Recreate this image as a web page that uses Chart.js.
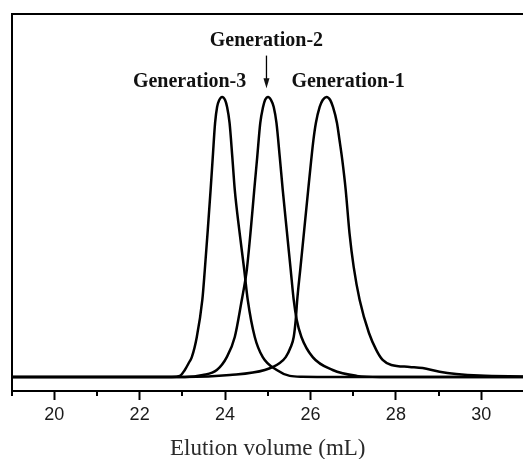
<!DOCTYPE html>
<html>
<head>
<meta charset="utf-8">
<script src="https://cdn.jsdelivr.net/npm/chart.js@4/dist/chart.umd.min.js"></script>
<style>
  html, body { margin: 0; padding: 0; background: #fff; overflow: hidden; }
  #wrap { width: 524px; height: 459px; }
</style>
</head>
<body>
<div id="wrap"><canvas id="c" width="524" height="459"></canvas></div>
<script>
// ---- data (elution volume in mL, normalized detector response) ----
const seriesNames = ["Generation-1", "Generation-2", "Generation-3"];

const gen1X = [19, 22.8, 23.058, 24.111, 24.930, 25.281, 25.421, 25.538, 25.608, 25.655, 25.690, 25.760, 25.854, 25.947, 26.018, 26.069, 26.127, 26.216, 26.287, 26.373, 26.462, 26.527, 26.621, 26.680, 26.745, 26.825, 26.914, 27.012, 27.152, 27.370, 27.543, 27.690, 27.894, 28.322, 28.626, 29.023, 29.414, 29.959, 31];
const gen1Y = [0, 0, 0, 0.007, 0.025, 0.05, 0.071, 0.107, 0.143, 0.204, 0.275, 0.382, 0.525, 0.668, 0.775, 0.846, 0.907, 0.964, 0.989, 1.0, 0.989, 0.964, 0.907, 0.846, 0.775, 0.668, 0.514, 0.393, 0.275, 0.157, 0.096, 0.061, 0.043, 0.036, 0.032, 0.019, 0.011, 0.005, 0.002];

const gen2X = [19, 22.8, 23.058, 23.480, 23.807, 24.041, 24.228, 24.392, 24.474, 24.509, 24.602, 24.684, 24.754, 24.825, 24.890, 24.937, 25.007, 25.077, 25.140, 25.204, 25.281, 25.351, 25.444, 25.538, 25.608, 25.678, 25.788, 26.053, 26.520, 27.082, 27.62, 29, 31];
const gen2Y = [0, 0, 0, 0.007, 0.025, 0.071, 0.143, 0.275, 0.346, 0.382, 0.525, 0.668, 0.786, 0.907, 0.964, 0.989, 1.0, 0.989, 0.964, 0.907, 0.786, 0.668, 0.525, 0.382, 0.275, 0.204, 0.143, 0.071, 0.025, 0.004, 0, 0, 0];

const gen3X = [19, 22.6, 22.754, 22.942, 23.058, 23.150, 23.222, 23.339, 23.468, 23.526, 23.596, 23.662, 23.713, 23.767, 23.814, 23.865, 23.931, 24.001, 24.048, 24.106, 24.170, 24.228, 24.333, 24.450, 24.532, 24.696, 24.883, 25.211, 25.515, 25.8, 27, 29, 31];
const gen3Y = [0, 0, 0, 0.004, 0.025, 0.05, 0.071, 0.143, 0.275, 0.382, 0.525, 0.668, 0.786, 0.907, 0.964, 0.989, 1.0, 0.989, 0.964, 0.907, 0.786, 0.668, 0.525, 0.382, 0.275, 0.143, 0.071, 0.025, 0.004, 0.001, 0, 0, 0];

const xMajorTicks = [20, 22, 24, 26, 28, 30];
const xMinorTicks = [19, 21, 23, 25, 27, 29, 31];
const xAxisTitle = "Elution volume (mL)";

// peak annotations (text, x in mL, y in response units)
const annoText = ["Generation-3", "Generation-2", "Generation-1"];
const annoX = [23.17, 24.97, 26.88];
const annoY = [1.037, 1.182, 1.037];
const arrowX = 24.97;
const arrowFromY = 1.1475;
const arrowToY = 1.031;

// ---- build chart ----
function pts(xs, ys) { return xs.map((x, i) => ({ x: x, y: ys[i] })); }
const allSeries = [[gen1X, gen1Y], [gen2X, gen2Y], [gen3X, gen3Y]];
const datasets = allSeries.map((s, i) => ({
  label: seriesNames[i],
  data: pts(s[0], s[1]),
  borderColor: "#000",
  borderWidth: 2.5,
  pointRadius: 0,
  fill: false,
  cubicInterpolationMode: "monotone"
}));

const extras = {
  id: "extras",
  afterDraw(chart) {
    const ctx = chart.ctx;
    const xs = chart.scales.x, ys = chart.scales.y;
    ctx.save();
    // minor ticks
    ctx.strokeStyle = "#000";
    ctx.lineWidth = 2;
    xMinorTicks.forEach(v => {
      const px = Math.round(xs.getPixelForValue(v));
      ctx.beginPath();
      ctx.moveTo(px, xs.top);
      ctx.lineTo(px, xs.top + 5);
      ctx.stroke();
    });
    // labels
    ctx.fillStyle = "#111";
    ctx.font = "bold 20px 'Liberation Serif', 'Times New Roman', serif";
    ctx.textAlign = "center";
    ctx.textBaseline = "alphabetic";
    annoText.forEach((t, i) => {
      ctx.fillText(t, xs.getPixelForValue(annoX[i]), ys.getPixelForValue(annoY[i]));
    });
    // arrow
    const ax = xs.getPixelForValue(arrowX);
    const y0 = ys.getPixelForValue(arrowFromY);
    const y1 = ys.getPixelForValue(arrowToY);
    ctx.lineWidth = 1.3;
    ctx.beginPath();
    ctx.moveTo(ax, y0);
    ctx.lineTo(ax, y1 - 8);
    ctx.stroke();
    ctx.beginPath();
    ctx.moveTo(ax - 3, y1 - 10);
    ctx.lineTo(ax + 3, y1 - 10);
    ctx.lineTo(ax, y1);
    ctx.closePath();
    ctx.fill();
    ctx.restore();
  }
};

new Chart(document.getElementById("c"), {
  type: "line",
  data: { datasets: datasets },
  options: {
    responsive: false,
    animation: false,
    devicePixelRatio: 1,
    layout: { padding: { left: 11.5, top: 14, right: 0, bottom: 0 } },
    plugins: { legend: { display: false }, tooltip: { enabled: false } },
    scales: {
      x: {
        type: "linear",
        position: "bottom",
        min: 19, max: 31,
        afterBuildTicks: (s) => { s.ticks = xMajorTicks.map(v => ({ value: v })); },
        grid: { display: true, drawOnChartArea: false, tickLength: 9, tickWidth: 2, tickColor: "#000" },
        border: { display: true, color: "#000", width: 2 },
        ticks: {
          padding: 4,
          color: "#1a1a1a",
          font: { family: "'Liberation Sans', Arial, sans-serif", size: 18, lineHeight: 1.2 },
          maxRotation: 0,
          autoSkip: false
        },
        title: {
          display: true,
          text: xAxisTitle,
          color: "#2a2a2a",
          font: { family: "'Liberation Serif', 'Times New Roman', serif", size: 23, lineHeight: 0.88 },
          padding: { top: 9.16, bottom: 0 }
        }
      },
      x2: {
        type: "linear",
        position: "top",
        min: 19, max: 31,
        grid: { display: false, drawTicks: false },
        border: { display: true, color: "#000", width: 2 },
        ticks: { display: false },
        afterFit: (s) => { s.height = 0; }
      },
      y: {
        type: "linear",
        position: "left",
        min: -0.05, max: 1.296,
        grid: { display: false, drawTicks: false },
        border: { display: true, color: "#000", width: 2 },
        ticks: { display: false },
        afterFit: (s) => { s.width = 0; }
      }
    }
  },
  plugins: [extras]
});
</script>
</body>
</html>
